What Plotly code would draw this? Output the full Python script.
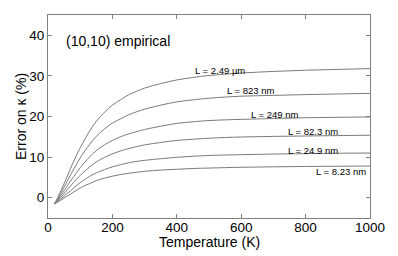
import plotly.graph_objects as go

temps = [20, 30, 40, 50, 60, 70, 80, 90, 100, 115, 130, 150, 175, 200, 225, 250, 300, 350, 400, 450, 500, 600, 700, 800, 900, 1000]

err_2490nm = [-1.5, 0.0, 1.7, 3.5, 5.3, 7.2, 9.0, 10.7, 12.3, 14.5, 16.5, 18.8, 21.0, 22.8, 24.1, 25.3, 27.0, 28.1, 29.0, 29.6, 30.1, 30.7, 31.1, 31.4, 31.6, 31.8]
err_823nm = [-1.5, -0.3, 1.1, 2.6, 4.1, 5.6, 7.1, 8.4, 9.8, 11.6, 13.2, 15.1, 16.9, 18.4, 19.4, 20.4, 21.8, 22.8, 23.6, 24.1, 24.5, 25.0, 25.2, 25.4, 25.55, 25.7]
err_249nm = [-1.5, -0.5, 0.5, 1.7, 2.9, 4.1, 5.2, 6.3, 7.4, 8.8, 10.1, 11.6, 13.0, 14.1, 15.0, 15.7, 16.8, 17.6, 18.3, 18.7, 19.0, 19.3, 19.5, 19.7, 19.8, 19.9]
err_82nm = [-1.5, -0.7, 0.1, 1.0, 2.0, 2.9, 3.8, 4.7, 5.5, 6.6, 7.6, 8.8, 9.9, 10.8, 11.5, 12.1, 13.0, 13.6, 14.1, 14.4, 14.65, 14.95, 15.1, 15.2, 15.3, 15.4]
err_25nm = [-1.5, -0.9, -0.3, 0.4, 1.1, 1.7, 2.4, 3.1, 3.7, 4.5, 5.3, 6.1, 6.9, 7.6, 8.1, 8.6, 9.2, 9.6, 9.95, 10.2, 10.4, 10.6, 10.75, 10.85, 10.95, 11.0]
err_8nm = [-1.5, -1.1, -0.6, -0.1, 0.4, 0.9, 1.4, 1.9, 2.4, 3.0, 3.5, 4.2, 4.8, 5.3, 5.7, 6.0, 6.5, 6.8, 7.0, 7.2, 7.3, 7.5, 7.6, 7.7, 7.75, 7.8]

series = [err_2490nm, err_823nm, err_249nm, err_82nm, err_25nm, err_8nm]

label_texts = ["L = 2.49 \u00b5m", "L = 823 nm", "L = 249 nm", "L = 82.3 nm", "L = 24.9 nm", "L = 8.23 nm"]
label_x = [533, 629, 705, 822, 824, 909]
label_y = [31.4, 26.3, 20.6, 16.4, 11.7, 6.4]

x_ticks = [0, 200, 400, 600, 800, 1000]
y_ticks = [0, 10, 20, 30, 40]

FONT = "Liberation Sans, Arial, Helvetica, sans-serif"
AXC = "#808080"

fig = go.Figure()
for ys in series:
    fig.add_trace(go.Scatter(x=temps, y=ys, mode="lines",
                             line=dict(color="#7a7a7a", width=1, shape="spline", smoothing=1.0),
                             showlegend=False, hoverinfo="skip"))

for t, x, y in zip(label_texts, label_x, label_y):
    fig.add_annotation(x=x, y=y, text=t, showarrow=False, xanchor="center", yanchor="middle",
                       font=dict(family=FONT, size=9.5, color="#000000"))

fig.add_annotation(x=50, y=38.7, text="(10,10) empirical", showarrow=False, xanchor="left",
                   yanchor="middle", font=dict(family=FONT, size=14, color="#000000"))

# axis titles as annotations for exact placement
fig.add_annotation(x=0.5, y=0, xref="paper", yref="paper", text="Temperature (K)",
                   showarrow=False, xanchor="center", yanchor="middle", yshift=-24,
                   font=dict(family=FONT, size=14, color="#000000"))
fig.add_annotation(x=0, y=0.5, xref="paper", yref="paper", text="Error on \u03ba (%)",
                   showarrow=False, xanchor="center", yanchor="middle", xshift=-27.5,
                   textangle=-90, font=dict(family=FONT, size=14, color="#000000"))

# page body has an 8px default margin: size the figure so it fits the 398x256 window
fig.update_layout(
    width=390, height=248,
    margin=dict(l=40, r=28, t=7, b=38),
    paper_bgcolor="white", plot_bgcolor="white",
    font=dict(family=FONT, size=13.5, color="#000000"),
)
fig.update_xaxes(range=[0, 1000], tickvals=x_ticks, ticktext=[str(v) for v in x_ticks],
                 showgrid=False, zeroline=False, showline=True, linecolor=AXC, linewidth=1,
                 mirror="ticks", ticks="inside", ticklen=4, tickcolor=AXC,
                 tickfont=dict(size=13.5), automargin=False, ticklabelstandoff=-3)
fig.update_yaxes(range=[-5, 45], tickvals=y_ticks, ticktext=[str(v) for v in y_ticks],
                 showgrid=False, zeroline=False, showline=True, linecolor=AXC, linewidth=1,
                 mirror="ticks", ticks="inside", ticklen=4, tickcolor=AXC,
                 tickfont=dict(size=13.5), automargin=False)

fig.write_html("out.html")
